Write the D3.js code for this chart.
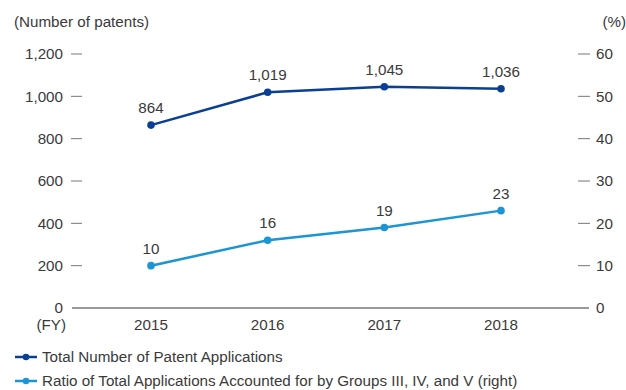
<!DOCTYPE html>
<html>
<head>
<meta charset="utf-8">
<script src="https://cdn.jsdelivr.net/npm/d3@7"></script>
<style>
  body { margin: 0; background: #fff; }
  svg text { font-family: "Liberation Sans", Arial, sans-serif; fill: #3a3a3a; }
</style>
</head>
<body>
<svg id="chart" width="626" height="390"></svg>
<script>
// Fiscal years and series
const years = ["2015", "2016", "2017", "2018"];
const totalApplications = [864, 1019, 1045, 1036];
const groupRatio = [10, 16, 19, 23];
const leftTicks = [0, 200, 400, 600, 800, 1000, 1200];
const rightTicks = [0, 10, 20, 30, 40, 50, 60];
const seriesNames = [
  "Total Number of Patent Applications",
  "Ratio of Total Applications Accounted for by Groups III, IV, and V (right)"
];

const darkBlue = "#0b3f94";
const lightBlue = "#1b95d3";
const axisGrey = "#777";

const svg = d3.select("#chart");
const fs = 15.2;

const x = d3.scalePoint().domain(years).range([151, 501]);
const yL = d3.scaleLinear().domain([0, 1200]).range([308, 54]);
const yR = d3.scaleLinear().domain([0, 60]).range([308, 54]);

// Axis titles
svg.append("text").attr("x", 14).attr("y", 27).style("font-size", fs + "px").text("(Number of patents)");
svg.append("text").attr("x", 626).attr("y", 27).attr("text-anchor", "end").style("font-size", fs + "px").text("(%)");

// Left axis: short dashes and labels
const left = svg.append("g");
leftTicks.forEach(t => {
  if (t !== 0) {
    left.append("line").attr("x1", 71).attr("x2", 82).attr("y1", yL(t)).attr("y2", yL(t))
      .attr("stroke", axisGrey).attr("stroke-width", 1);
  }
  left.append("text").attr("x", 63).attr("y", yL(t)).attr("dy", "0.35em")
    .attr("text-anchor", "end").style("font-size", fs + "px").text(d3.format(",")(t));
});

// Right axis
const right = svg.append("g");
rightTicks.forEach(t => {
  if (t !== 0) {
    right.append("line").attr("x1", 578).attr("x2", 590).attr("y1", yR(t)).attr("y2", yR(t))
      .attr("stroke", axisGrey).attr("stroke-width", 1);
  }
  right.append("text").attr("x", 596).attr("y", yR(t)).attr("dy", "0.35em")
    .attr("text-anchor", "start").style("font-size", fs + "px").text(t);
});

// Baseline
svg.append("line").attr("x1", 72).attr("x2", 589).attr("y1", yL(0)).attr("y2", yL(0))
  .attr("stroke", axisGrey).attr("stroke-width", 1.6);

// Year labels
svg.append("text").attr("x", 66).attr("y", 330).attr("text-anchor", "end").style("font-size", fs + "px").text("(FY)");
years.forEach(yr => {
  svg.append("text").attr("x", x(yr)).attr("y", 330).attr("text-anchor", "middle")
    .style("font-size", fs + "px").text(yr);
});

function drawSeries(values, yScale, color, fmt) {
  const pts = years.map((yr, i) => [x(yr), yScale(values[i]), values[i]]);
  svg.append("path").attr("d", d3.line()(pts.map(p => [p[0], p[1]])))
    .attr("fill", "none").attr("stroke", color).attr("stroke-width", 2.5);
  pts.forEach(p => {
    svg.append("circle").attr("cx", p[0]).attr("cy", p[1]).attr("r", 3.8).attr("fill", color);
    svg.append("text").attr("x", p[0]).attr("y", p[1] - 12).attr("text-anchor", "middle")
      .style("font-size", fs + "px").text(fmt(p[2]));
  });
}

drawSeries(totalApplications, yL, darkBlue, d3.format(","));
drawSeries(groupRatio, yR, lightBlue, d => d);

// Legend
[[darkBlue, 357], [lightBlue, 381]].forEach(([c, ly], i) => {
  svg.append("line").attr("x1", 15).attr("x2", 37).attr("y1", ly).attr("y2", ly)
    .attr("stroke", c).attr("stroke-width", 2.5);
  svg.append("circle").attr("cx", 26).attr("cy", ly).attr("r", 3.3).attr("fill", c);
  svg.append("text").attr("x", 42).attr("y", ly).attr("dy", "0.35em")
    .style("font-size", fs + "px").text(seriesNames[i]);
});
</script>
</body>
</html>
